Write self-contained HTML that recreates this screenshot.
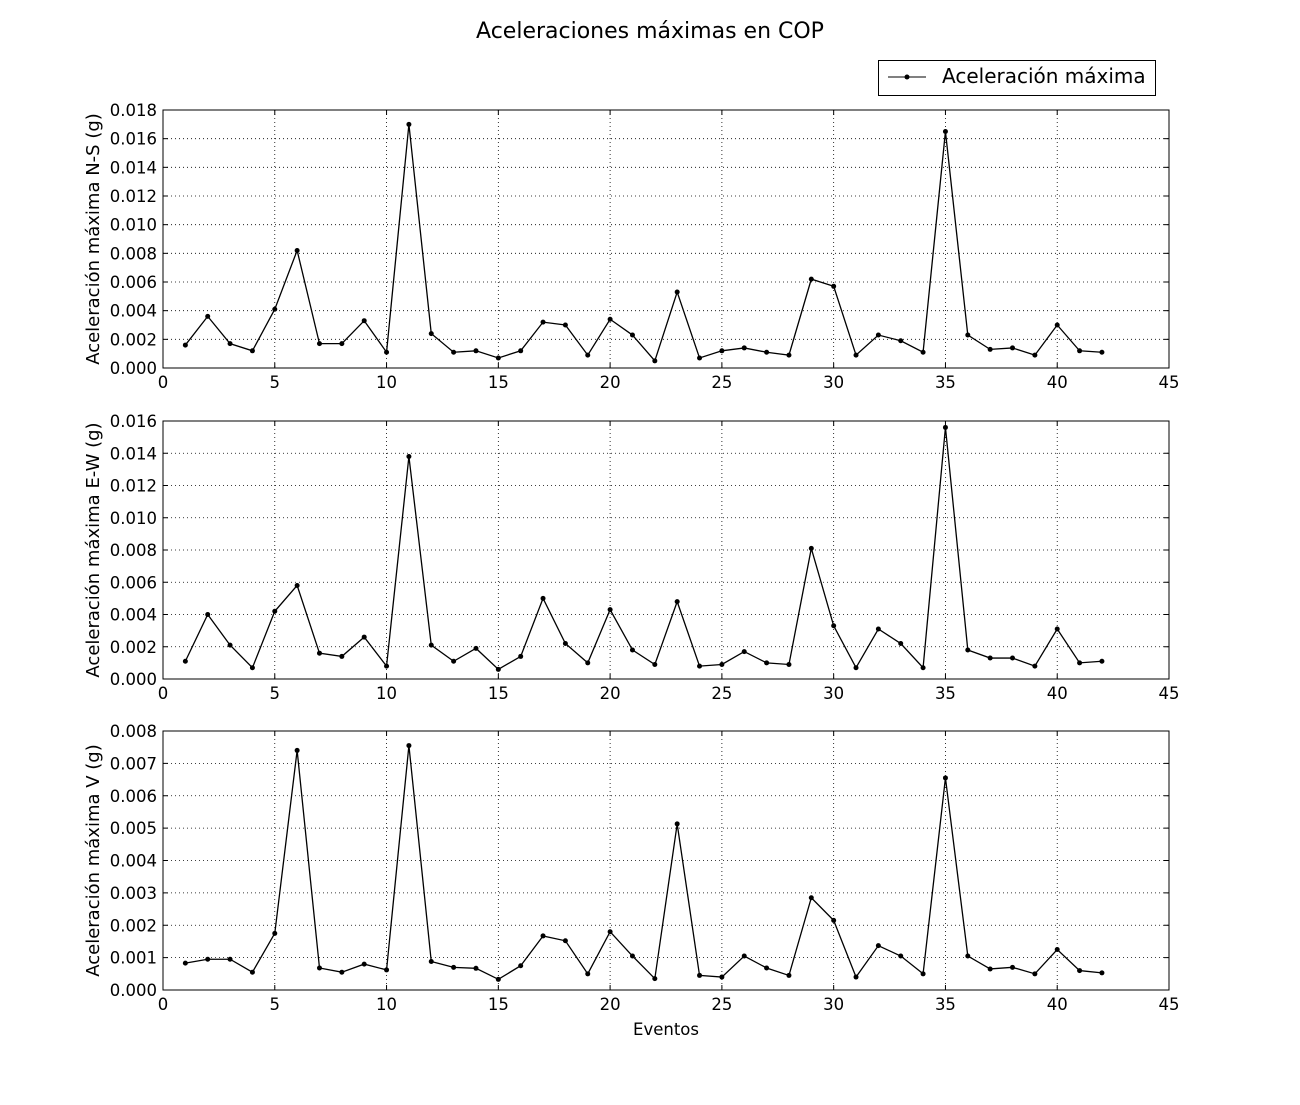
<!DOCTYPE html>
<html><head><meta charset="utf-8"><style>
body{margin:0;background:#fff;}
svg text{font-family:"DejaVu Sans","Liberation Sans",sans-serif;fill:#000;}
</style></head><body>
<svg id="chart" width="1300" height="1100" xmlns="http://www.w3.org/2000/svg">
<rect width="1300" height="1100" fill="#fff"/>
<text x="650" y="38" font-size="22" text-anchor="middle">Aceleraciones máximas en COP</text>
<g>
<rect x="878.5" y="60.5" width="277" height="35" fill="#fff" stroke="#000"/>
<line x1="888" y1="77" x2="926" y2="77" stroke="#000"/>
<circle cx="907" cy="77" r="2.5" fill="#000"/>
<text x="942" y="83" font-size="20">Aceleración máxima</text>
</g>
</svg>
<script>
const events=[];for(let i=1;i<=42;i++)events.push(i);
const nsValues=[0.0016,0.0036,0.0017,0.0012,0.0041,0.0082,0.0017,0.0017,0.0033,0.0011,0.0170,0.0024,0.0011,0.0012,0.0007,0.0012,0.0032,0.0030,0.0009,0.0034,0.0023,0.0005,0.0053,0.0007,0.0012,0.0014,0.0011,0.0009,0.0062,0.0057,0.0009,0.0023,0.0019,0.0011,0.0165,0.0023,0.0013,0.0014,0.0009,0.0030,0.0012,0.0011];
const ewValues=[0.0011,0.0040,0.0021,0.0007,0.0042,0.0058,0.0016,0.0014,0.0026,0.0008,0.0138,0.0021,0.0011,0.0019,0.0006,0.0014,0.0050,0.0022,0.0010,0.0043,0.0018,0.0009,0.0048,0.0008,0.0009,0.0017,0.0010,0.0009,0.0081,0.0033,0.0007,0.0031,0.0022,0.0007,0.0156,0.0018,0.0013,0.0013,0.0008,0.0031,0.0010,0.0011];
const vValues=[0.00083,0.00095,0.00095,0.00055,0.00175,0.0074,0.00068,0.00055,0.0008,0.00062,0.00755,0.00088,0.0007,0.00067,0.00033,0.00075,0.00167,0.00152,0.0005,0.0018,0.00105,0.00035,0.00513,0.00045,0.0004,0.00105,0.00068,0.00045,0.00285,0.00215,0.0004,0.00137,0.00105,0.0005,0.00655,0.00105,0.00065,0.0007,0.0005,0.00125,0.0006,0.00053];
const xTicks=[0,5,10,15,20,25,30,35,40,45];
const nsTicks=[0,0.002,0.004,0.006,0.008,0.010,0.012,0.014,0.016,0.018];
const ewTicks=[0,0.002,0.004,0.006,0.008,0.010,0.012,0.014,0.016];
const vTicks=[0,0.001,0.002,0.003,0.004,0.005,0.006,0.007,0.008];
const NS="http://www.w3.org/2000/svg";
const svg=document.getElementById('chart');
const L=163,R=1169;
const xs=v=>L+(R-L)*v/45;
function mk(tag,attrs,parent){const e=document.createElementNS(NS,tag);for(const k in attrs)e.setAttribute(k,attrs[k]);parent.appendChild(e);return e;}
function panel(name,top,bot,ticks,vals,label,dec){
  const g=mk('g',{},svg);
  
  
  const ymax=ticks[ticks.length-1];
  const ys=v=>bot-(bot-top)*v/ymax;
  xTicks.forEach(t=>{const x=xs(t);
    if(t>0&&t<45)mk('line',{x1:x,x2:x,y1:top,y2:bot,stroke:'#000','stroke-dasharray':'1,3','stroke-width':0.8},g);
    mk('line',{x1:x,x2:x,y1:bot,y2:bot-5,stroke:'#000'},g);mk('line',{x1:x,x2:x,y1:top,y2:top+5,stroke:'#000'},g);
    const tx=mk('text',{x:x,y:bot+20,'font-size':16.5,'text-anchor':'middle'},g);tx.textContent=t;
    
    
  });
  ticks.forEach(t=>{const y=ys(t);
    if(t>0&&t<ymax)mk('line',{x1:L,x2:R,y1:y,y2:y,stroke:'#000','stroke-dasharray':'1,3','stroke-width':0.8},g);
    mk('line',{x1:L,x2:L+5,y1:y,y2:y,stroke:'#000'},g);mk('line',{x1:R,x2:R-5,y1:y,y2:y,stroke:'#000'},g);
    const tx=mk('text',{x:L-6,y:y+6,'font-size':16.5,'text-anchor':'end'},g);tx.textContent=t.toFixed(dec);
    
    
  });
  mk('rect',{x:L,y:top,width:R-L,height:bot-top,fill:'none',stroke:'#000'},g);
  const pts=vals.map((v,i)=>xs(events[i])+','+ys(v)).join(' ');
  const pl=mk('polyline',{points:pts,fill:'none',stroke:'#000','stroke-width':1.3},g);
  
  
  vals.forEach((v,i)=>{const c=mk('circle',{cx:xs(events[i]),cy:ys(v),r:2.5,fill:'#000'},g);
    
    });
  const cy=(top+bot)/2;
  const yl=mk('text',{x:99,y:cy,'font-size':18,'text-anchor':'middle',transform:`rotate(-90 99 ${cy})`},g);yl.textContent=label;
  
  
}
panel('ns',110,368,nsTicks,nsValues,'Aceleración máxima N-S (g)',3);
panel('ew',421,679,ewTicks,ewValues,'Aceleración máxima E-W (g)',3);
panel('v',731,990,vTicks,vValues,'Aceleración máxima V (g)',3);
const xl=mk('text',{x:666,y:1035,'font-size':16.5,'text-anchor':'middle'},svg);xl.textContent='Eventos';


</script>
</body></html>
